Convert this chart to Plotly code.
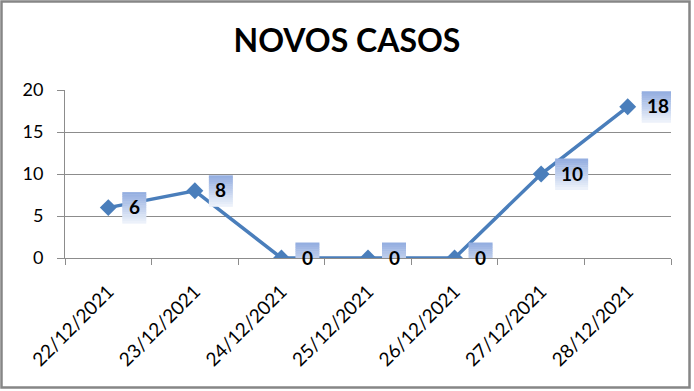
import plotly.graph_objects as go

dates = ["22/12/2021", "23/12/2021", "24/12/2021", "25/12/2021",
         "26/12/2021", "27/12/2021", "28/12/2021"]
casos = [6, 8, 0, 0, 0, 10, 18]
y_ticks = [0, 5, 10, 15, 20]

FONT = "Lato"
LINE = "#4A7EBB"
GRID = "#8C8C8C"

W, H_FIG = 694, 391
ML, MR, MT, MB = 65, 23, 90, 133
PW, PH = W - ML - MR, H_FIG - MT - MB

x_idx = list(range(len(dates)))

fig = go.Figure()
fig.add_trace(go.Scatter(
    x=x_idx, y=casos, mode="lines+markers",
    line=dict(color=LINE, width=3.5),
    marker=dict(symbol="diamond", size=13, color=LINE),
    hoverinfo="skip", showlegend=False,
))

def lerp(c1, c2, t):
    return "rgb(%d,%d,%d)" % tuple(round(a + (b - a) * t) for a, b in zip(c1, c2))

top_c = (148, 174, 224)
bot_c = (236, 241, 250)
shapes = []
annotations = []
N = 14
BH = 31
for i, v in zip(x_idx, casos):
    w = 24 if v < 10 else 33
    x0, x1 = 14, 14 + w
    for k in range(N):
        ya = BH / 2 - BH * k / N
        yb = BH / 2 - BH * (k + 1) / N
        shapes.append(dict(
            type="rect", layer="above",
            xref="x", yref="y", xsizemode="pixel", ysizemode="pixel",
            xanchor=i, yanchor=v, x0=x0, x1=x1, y0=yb - 0.5, y1=ya,
            fillcolor=lerp(top_c, bot_c, k / (N - 1)), line=dict(width=0),
        ))
    annotations.append(dict(
        x=i, y=v, xref="x", yref="y", text="<b>%d</b>" % v,
        showarrow=False, xanchor="center", yanchor="middle",
        xshift=14 + w / 2, yshift=1,
        font=dict(family=FONT, size=19, color="black"),
    ))

# outer chart frame
shapes.append(dict(
    type="rect", xref="paper", yref="paper", layer="above",
    x0=-(ML - 1.5) / PW, x1=1 + (MR - 4.5) / PW,
    y0=-(MB - 3.5) / PH, y1=1 + (MT - 1.5) / PH,
    line=dict(color="#868686", width=2.5), fillcolor="rgba(0,0,0,0)"))

fig.update_layout(
    width=W, height=H_FIG,
    margin=dict(l=ML, r=MR, t=MT, b=MB),
    paper_bgcolor="white", plot_bgcolor="white",
    title=dict(text="<b>NOVOS CASOS</b>", x=0.5, xanchor="center",
               y=1 - 41 / H_FIG, yanchor="middle", yref="container",
               font=dict(family=FONT, size=32, color="black")),
    shapes=shapes, annotations=annotations,
    font=dict(family=FONT, size=16, color="black"),
)
fig.update_xaxes(
    type="linear", range=[-0.5, 6.5],
    tickmode="array", tickvals=x_idx, ticktext=dates, tickangle=-45,
    showgrid=False, zeroline=False,
    showline=True, linecolor=GRID, linewidth=1,
    ticks="", ticklabelstandoff=14,
    tickfont=dict(family=FONT, size=19, color="black"),
    minor=dict(tickmode="array", tickvals=[i - 0.5 for i in range(len(dates) + 1)],
               ticks="outside", ticklen=6, tickcolor=GRID, showgrid=False),
)
fig.update_yaxes(
    range=[0, 20], tickmode="array", tickvals=y_ticks,
    showgrid=True, gridcolor=GRID, gridwidth=1,
    zeroline=False, showline=True, linecolor=GRID, linewidth=1,
    ticks="outside", ticklen=7, tickcolor=GRID,
    ticklabelstandoff=10,
    tickfont=dict(family=FONT, size=18, color="black"),
)

fig.write_html("out.html", config={"displayModeBar": False},
               post_script="document.body.style.margin='0';")
